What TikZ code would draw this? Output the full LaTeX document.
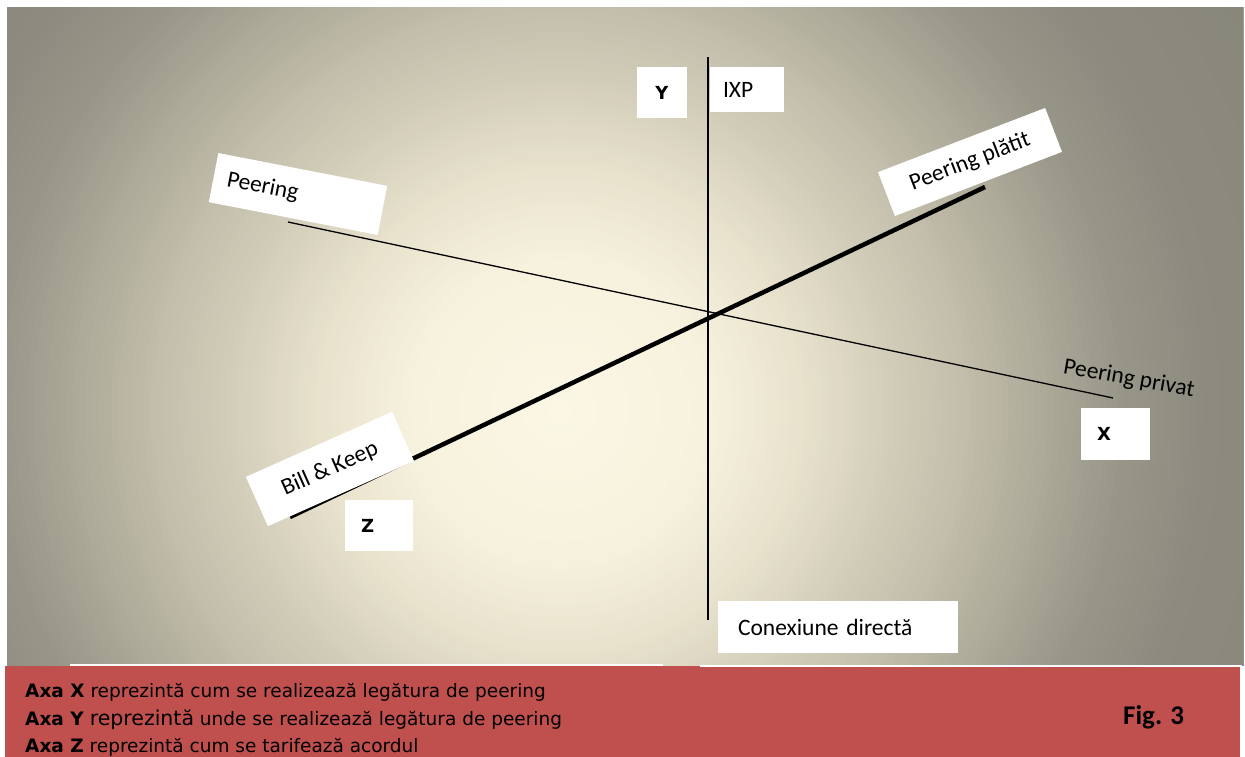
\documentclass[tikz,border=0pt]{standalone}
\usepackage{fontspec}
\setmainfont{Carlito}
\newfontfamily\tahoma{DejaVu Sans}
\newfontfamily\calib{Carlito}
\definecolor{bga}{RGB}{251,247,229}
\definecolor{bgb}{RGB}{247,242,221}
\definecolor{bgc}{RGB}{232,226,205}
\definecolor{bgd}{RGB}{210,205,185}
\definecolor{bge}{RGB}{194,189,170}
\definecolor{bgf}{RGB}{152,150,136}
\definecolor{bgg}{RGB}{141,139,127}
\definecolor{bgh}{RGB}{134,132,121}
\definecolor{redbox}{RGB}{192,80,77}
\tikzset{
  wbox/.style={fill=white, inner sep=0pt, font=\calib\fontsize{23.5}{27}\selectfont},
  axbox/.style={fill=white, inner sep=0pt, font=\tahoma\bfseries\fontsize{18}{21}\selectfont},
  axline/.style={line width=1.3pt, black},
  zline/.style={line width=4.5pt, black},
  legend/.style={anchor=base west, inner sep=0pt, font=\tahoma\fontsize{18.5}{22}\selectfont},
}
\begin{document}
\begin{tikzpicture}[x=1pt,y=-1pt]
\useasboundingbox (0,0) rectangle (1245,757);
\fill[white] (0,0) rectangle (1245,757);
\begin{scope}
  \clip (7,8) rectangle (1243,665);
  \coordinate (gc) at (560,410);
  \foreach \ra/\rb/\ca/\cb in {900/650/bgh/bgg, 650/565/bgg/bgf, 565/410/bgf/bge, 410/333/bge/bgd, 333/245/bgd/bgc, 245/150/bgc/bgb, 150/0/bgb/bga}{
    \foreach \k in {0,...,24}{
      \pgfmathsetmacro{\rr}{\ra-(\ra-\rb)*\k/24}
      \pgfmathtruncatemacro{\pp}{100*\k/24}
      \fill[color=\cb!\pp!\ca] (gc) circle[radius=\rr];
    }
  }
\end{scope}
% bottom red panel
\fill[redbox] (5,666) rectangle (1240,757);
\draw[white, line width=1.2pt] (70,665) -- (663,665);
\draw[white, line width=1.2pt] (700,666) -- (1241,666) -- (1241,757);
% axes
\coordinate (xl) at (288,222);
\coordinate (xr) at (1113,398);
\coordinate (zl) at (290,517);
\coordinate (zr) at (985,187);
\coordinate (yt) at (708,57);
\coordinate (yb) at (708,620);
\draw[axline] (xl) -- (xr);
\draw[axline, line width=1.6pt] (yt) -- (yb);
\draw[zline] (zl) -- (zr);
% labels on axes
\node[wbox, rotate=-11, minimum width=172pt, minimum height=50pt, text width=144pt, inner xsep=14pt, align=left] (peer) at (298,194) {Peering};
\node[wbox, rotate=21, minimum width=179pt, minimum height=47pt] (paid) at (970,162) {Peering plătit};
\node[wbox, rotate=24, minimum width=160pt, minimum height=54pt] (bk) at (330,469) {Bill \& Keep};
\node[wbox, minimum width=74pt, minimum height=45pt, text width=48pt, inner xsep=13pt, align=left] (ixp) at (747,89.5) {IXP};
\node[wbox, minimum width=240pt, minimum height=52pt, text width=200pt, inner xsep=20pt, align=left] (cd) at (838,627) {Conexiune directă};
\node[font=\calib\fontsize{23.5}{27}\selectfont, rotate=-10, inner sep=0pt] (pp) at (1129,379) {Peering privat};
\node[axbox, minimum width=50pt, minimum height=51pt] (ybox) at (662,92.5) {Y};
\node[axbox, minimum width=68pt, minimum height=51pt, text width=36pt, inner xsep=16pt, align=left] (zbox) at (379,525.5) {Z};
\node[axbox, minimum width=69pt, minimum height=52pt, text width=37pt, inner xsep=16pt, align=left] (xbox) at (1115.5,434) {X};
% legend
\node[legend] (l1) at (25,697) {\textbf{Axa X} reprezintă cum se realizează legătura de peering};
\node[legend] (l2) at (25,725) {\textbf{Axa Y} {\fontsize{20.5}{24}\selectfont reprezintă} unde se realizează legătura de peering};
\node[legend] (l3) at (25,752) {\textbf{Axa Z} reprezintă cum se tarifează acordul};
\node[anchor=base west, inner sep=0pt, font=\calib\bfseries\fontsize{27}{31}\selectfont] (fig) at (1123,724) {Fig. 3};
\end{tikzpicture}
\end{document}
